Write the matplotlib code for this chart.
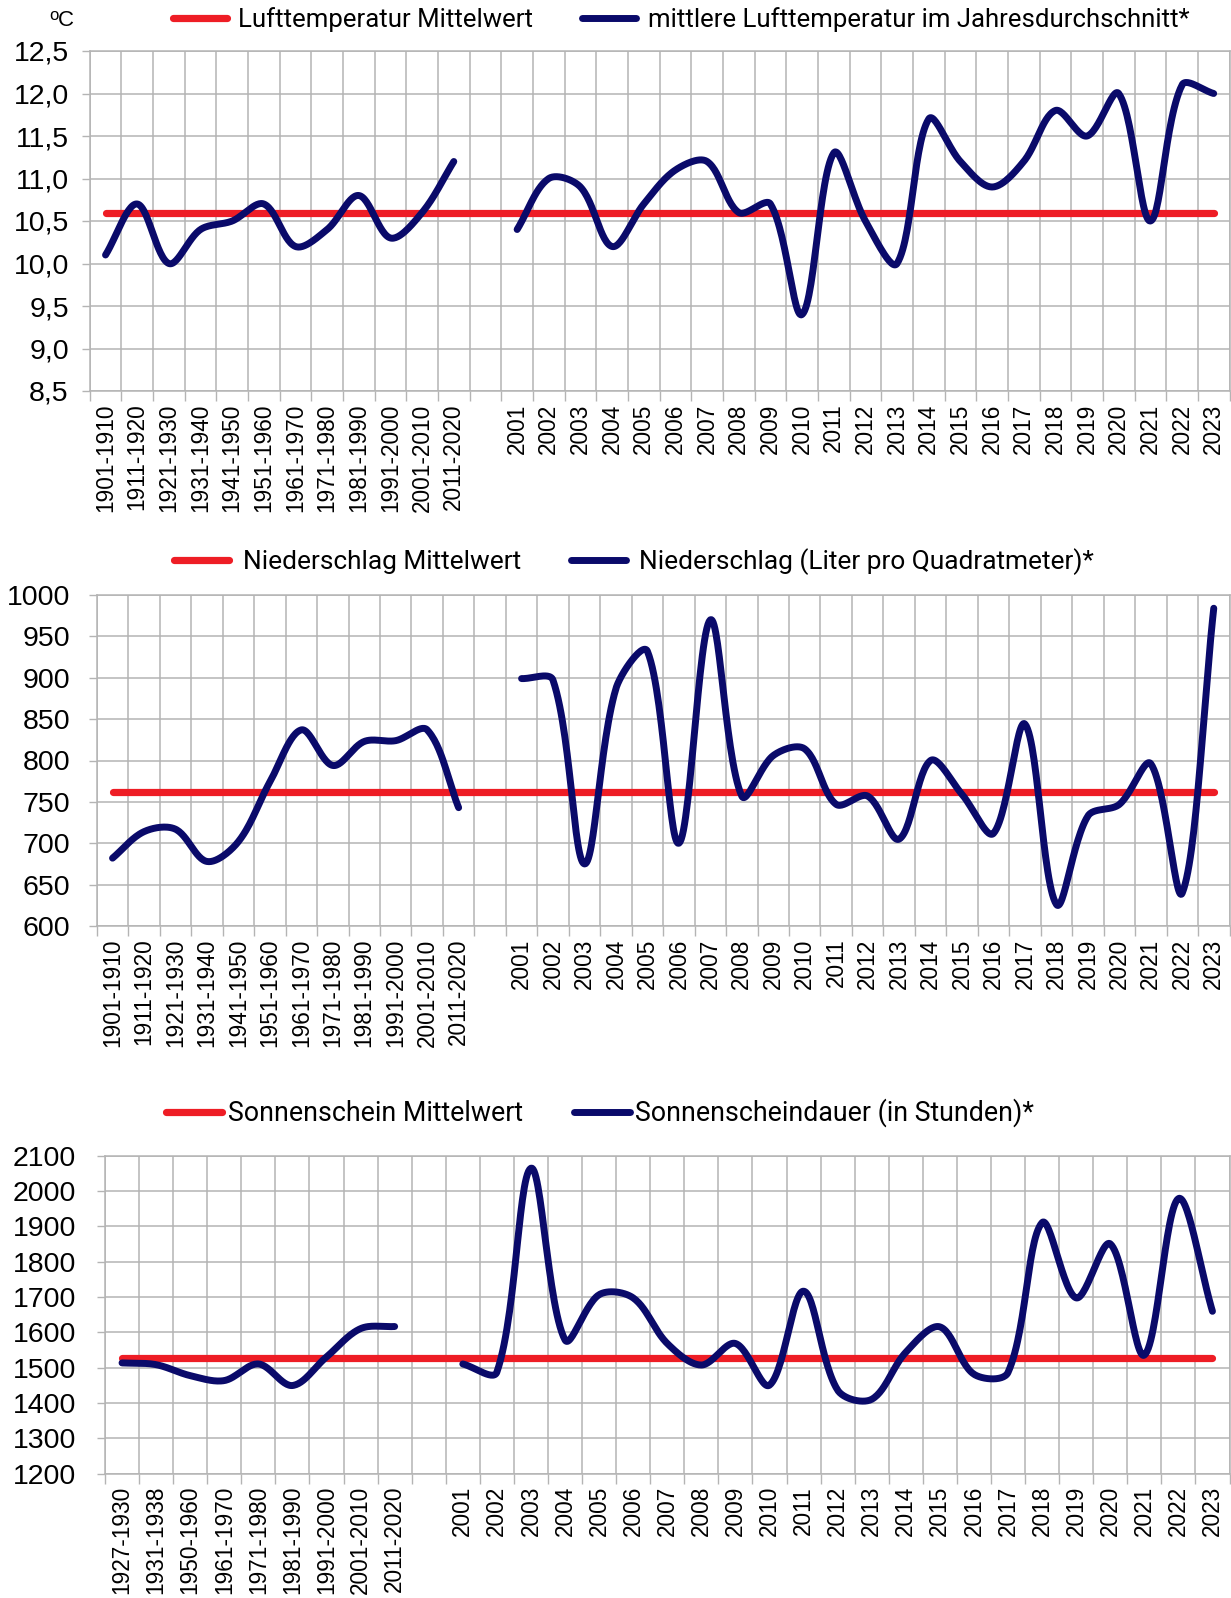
import numpy as np
import matplotlib.pyplot as plt
from matplotlib.ticker import FixedLocator, FuncFormatter

plt.rcParams['font.family'] = ['Liberation Sans', 'DejaVu Sans']

W, H = 1231, 1598
RED = '#ee1d25'
NAVY = '#0a0a6a'
GRID = '#b4b4b4'

# --- Lufttemperatur ---
temp_decades = ['1901-1910', '1911-1920', '1921-1930', '1931-1940', '1941-1950', '1951-1960',
                '1961-1970', '1971-1980', '1981-1990', '1991-2000', '2001-2010', '2011-2020']
temp_dec_vals = [10.1, 10.7, 10.0, 10.4, 10.5, 10.7, 10.2, 10.4, 10.8, 10.3, 10.6, 11.2]
years = ['2001', '2002', '2003', '2004', '2005', '2006', '2007', '2008', '2009', '2010', '2011', '2012',
         '2013', '2014', '2015', '2016', '2017', '2018', '2019', '2020', '2021', '2022', '2023']
temp_year_vals = [10.4, 11.0, 10.9, 10.2, 10.7, 11.1, 11.2, 10.6, 10.7, 9.4, 11.3, 10.5,
                  10.0, 11.7, 11.2, 10.9, 11.2, 11.8, 11.5, 12.0, 10.5, 12.1, 12.0]
temp_mean = 10.6
temp_ticks = [8.5, 9.0, 9.5, 10.0, 10.5, 11.0, 11.5, 12.0, 12.5]

# --- Niederschlag ---
rain_decades = temp_decades
rain_dec_vals = [682, 714, 717, 678, 702, 774, 837, 794, 823, 824, 837, 743]
rain_year_vals = [899, 897, 675, 887, 932, 700, 970, 757, 806, 814, 747, 757,
                  705, 800, 759, 712, 844, 626, 733, 747, 796, 640, 984]
rain_mean = 762
rain_ticks = [600, 650, 700, 750, 800, 850, 900, 950, 1000]

# --- Sonnenschein ---
sun_decades = ['1927-1930', '1931-1938', '1950-1960', '1961-1970', '1971-1980', '1981-1990',
               '1991-2000', '2001-2010', '2011-2020']
sun_dec_vals = [1513, 1508, 1477, 1463, 1510, 1449, 1530, 1610, 1616]
sun_year_vals = [1510, 1487, 2064, 1578, 1706, 1697, 1568, 1507, 1568, 1450, 1716, 1436,
                 1410, 1543, 1615, 1481, 1486, 1910, 1697, 1850, 1535, 1978, 1659]
sun_mean = 1527
sun_ticks = [1200, 1300, 1400, 1500, 1600, 1700, 1800, 1900, 2000, 2100]


def smooth(xs, ys, sx, sy, n=30):
    # bezier through the points like excel's "smoothed line",
    # tangents weighted by the segment lengths on screen (sx, sy = px per unit)
    xs = list(xs)
    ys = list(ys)
    m = len(xs)
    t = np.linspace(0, 1, n)

    def dist(i, j):
        return np.hypot((xs[j] - xs[i]) * sx, (ys[j] - ys[i]) * sy)

    px, py = [], []
    for i in range(m - 1):
        a, b, c, d = max(i - 1, 0), i, i + 1, min(i + 2, m - 1)
        d1, d2, d3 = dist(a, b), dist(b, c), dist(c, d)
        f1 = d2 / (d1 + d2) / 3
        f2 = d2 / (d2 + d3) / 3
        c1x = xs[b] + (xs[c] - xs[a]) * f1
        c1y = ys[b] + (ys[c] - ys[a]) * f1
        c2x = xs[c] - (xs[d] - xs[b]) * f2
        c2y = ys[c] - (ys[d] - ys[b]) * f2
        bx = (1-t)**3*xs[b] + 3*(1-t)**2*t*c1x + 3*(1-t)*t**2*c2x + t**3*xs[c]
        by = (1-t)**3*ys[b] + 3*(1-t)**2*t*c1y + 3*(1-t)*t**2*c2y + t**3*ys[c]
        px.extend(bx)
        py.extend(by)
    return px, py


fig = plt.figure(figsize=(W/100, H/100), dpi=100)


def panel(left, top, bottom, dec_labels, dec_vals, year_vals, mean, yticks, fmt,
          names, leg_xy, textpad, ypad, legsize):
    ax = fig.add_axes([left/W, 1 - bottom/H, (1229.5 - left)/W, (bottom - top)/H])
    labels = dec_labels + [''] + years
    n = len(labels)
    x = np.arange(n)
    px_x = (1229.5 - left) / n
    px_y = (bottom - top) / (yticks[-1] - yticks[0])

    ax.plot(x, [mean]*n, color=RED, lw=5.2, solid_capstyle='round', label=names[0], zorder=3)
    sx, sy = smooth(np.arange(len(dec_labels)), dec_vals, px_x, px_y)
    ax.plot(sx, sy, color=NAVY, lw=5.0, solid_capstyle='round', label=names[1], zorder=4)
    sx, sy = smooth(np.arange(len(years)) + len(dec_labels) + 1, year_vals, px_x, px_y)
    ax.plot(sx, sy, color=NAVY, lw=5.0, solid_capstyle='round', zorder=4)

    ax.set_xlim(-0.5, n - 0.5)
    ax.set_ylim(yticks[0], yticks[-1])
    ax.set_xticks(x)
    ax.set_xticklabels(labels, rotation=90, fontsize=16.3)
    ax.xaxis.set_minor_locator(FixedLocator(np.arange(n + 1) - 0.5))
    ax.tick_params(axis='x', which='major', length=0, pad=9)
    ax.tick_params(axis='x', which='minor', length=7, width=1, color=GRID)
    ax.set_yticks(yticks)
    ax.yaxis.set_major_formatter(FuncFormatter(fmt))
    ax.tick_params(axis='y', length=6, width=1, color=GRID, labelsize=20.5, pad=ypad)
    ax.grid(True, which='minor', axis='x', color=GRID, lw=1.1)
    ax.grid(True, which='major', axis='y', color=GRID, lw=1.1)
    for s in ax.spines.values():
        s.set_color(GRID)
        s.set_linewidth(1.1)
    ax.set_axisbelow(True)

    ax.legend(loc='center', bbox_to_anchor=(leg_xy[0]/W, 1 - leg_xy[1]/H),
              bbox_transform=fig.transFigure, ncol=2, frameon=False,
              handlelength=2.1, handletextpad=textpad, columnspacing=1.9,
              prop={'family': 'Roboto', 'size': legsize})
    return ax


panel(89.7, 51, 391, temp_decades, temp_dec_vals, temp_year_vals, temp_mean, temp_ticks,
      lambda v, p: f'{v:.1f}'.replace('.', ','),
      ['Lufttemperatur Mittelwert', 'mittlere Lufttemperatur im Jahresdurchschnitt*'],
      (681, 19.5), 0.45, 9, 18.5)
fig.text(54/W, 1 - 16/H, 'o', fontsize=12, ha='center', va='center')
fig.text(66/W, 1 - 21/H, 'C', fontsize=16, ha='center', va='center')

panel(96.8, 595, 926, rain_decades, rain_dec_vals, rain_year_vals, rain_mean, rain_ticks,
      lambda v, p: f'{v:.0f}',
      ['Niederschlag Mittelwert', 'Niederschlag (Liter pro Quadratmeter)*'],
      (634, 561.5), 0.5, 13, 18.9)

panel(105, 1155.5, 1473.5, sun_decades, sun_dec_vals, sun_year_vals, sun_mean, sun_ticks,
      lambda v, p: f'{v:.0f}',
      ['Sonnenschein Mittelwert', 'Sonnenscheindauer (in Stunden)*'],
      (600, 1113), 0.2, 15, 19.3)

fig.savefig('out.png', dpi=100)
